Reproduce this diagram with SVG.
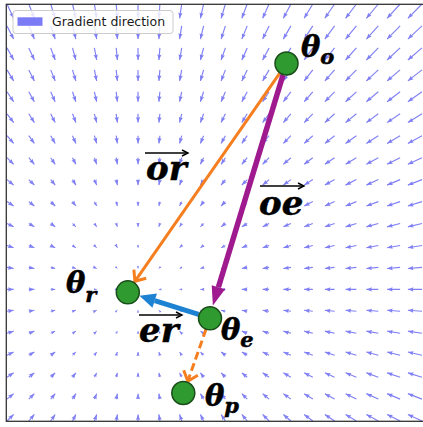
<svg xmlns="http://www.w3.org/2000/svg" width="423" height="427" viewBox="0 0 423 427">
<style>
.q path{stroke:#8080f4;stroke-width:1.15;fill:none;marker-end:url(#qa)}
.q path.b{stroke-width:1;marker-end:url(#qb)}
.q path.c{stroke-width:0.8;marker-end:url(#qc)}
.qh{fill:#8080f4}
.n circle{fill:#2f9a2f;stroke:#1a4d1a;stroke-width:1.5}
.lb{font-family:"DejaVu Serif",serif;font-weight:bold;font-style:italic;font-size:29px;fill:#000;stroke:#000;stroke-width:0.5}
.sub{font-size:21px}
.vl{font-size:34px}
.ov{stroke:#000;stroke-width:1.5;fill:none;marker-end:url(#mk)}
</style>
<defs>
<marker id="qa" markerUnits="userSpaceOnUse" orient="auto" overflow="visible" refX="0" refY="0" markerWidth="6" markerHeight="5"><path class="qh" d="M-5.5-2.1L0 0L-5.5 2.1L-4.8 0z"/></marker>
<marker id="qb" markerUnits="userSpaceOnUse" orient="auto" overflow="visible" refX="0" refY="0" markerWidth="5" markerHeight="4"><path class="qh" d="M-4-1.6L0 0L-4 1.6L-3.5 0z"/></marker>
<marker id="qc" markerUnits="userSpaceOnUse" orient="auto" overflow="visible" refX="0" refY="0" markerWidth="3" markerHeight="3"><path class="qh" d="M-2.5-1.1L0 0L-2.5 1.1z"/></marker>
<marker id="mo" markerUnits="userSpaceOnUse" orient="auto" overflow="visible" refX="0" refY="0" markerWidth="10" markerHeight="15"><path d="M-9-7.5L0 0L-9 7.5" fill="none" stroke="#f57f20" stroke-width="3"/></marker>
<marker id="mp" markerUnits="userSpaceOnUse" orient="auto" overflow="visible" refX="0" refY="0" markerWidth="19" markerHeight="14"><path d="M0-7L19 0L0 7z" fill="#9e1a8e"/></marker>
<marker id="mb" markerUnits="userSpaceOnUse" orient="auto" overflow="visible" refX="0" refY="0" markerWidth="16" markerHeight="15"><path d="M0-7.5L16 0L0 7.5z" fill="#1e82d2"/></marker>
<marker id="mk" markerUnits="userSpaceOnUse" orient="auto" overflow="visible" refX="0" refY="0" markerWidth="7" markerHeight="7"><path d="M-6-3L0 0L-6 3" fill="none" stroke="#000" stroke-width="1.4"/></marker>
</defs>
<rect width="423" height="427" fill="#fff"/>
<g id="quiver" class="q">
<path d="M7 4l6.65 14.3"/><path d="M28.8 4l5.56 14.3"/><path d="M50.7 4l4.47 14.3"/><path d="M72.5 4l3.38 14.3"/><path d="M94.4 4l2.28 14.3"/><path d="M116.2 4l1.19 14.3"/><path d="M138 4l.1 14.3"/><path d="M159.9 4l-1 14.3"/><path d="M181.7 4l-2.09 14.3"/><path d="M203.6 4l-3.18 14.3"/><path d="M225.4 4l-4.27 14.3"/><path d="M247.2 4l-5.36 14.3"/><path d="M269.1 4l-6.46 14.3"/><path d="M290.9 4l-7.55 14.3"/><path d="M312.8 4l-8.64 14.3"/><path d="M334.6 4l-9.73 14.3"/><path d="M356.4 4l-10.82 14.3"/><path d="M378.3 4l-11.92 14.3"/><path d="M400.1 4l-13 14.3"/><path d="M422 4l-14.1 14.3"/>
<path d="M7 25.9l6.65 13.2"/><path d="M28.8 25.9l5.56 13.2"/><path d="M50.7 25.9l4.47 13.2"/><path d="M72.5 25.9l3.38 13.2"/><path d="M94.4 25.9l2.28 13.2"/><path d="M116.2 25.9l1.19 13.2"/><path d="M138 25.9l.1 13.2"/><path d="M159.9 25.9l-1 13.2"/><path d="M181.7 25.9l-2.09 13.2"/><path d="M203.6 25.9l-3.18 13.2"/><path d="M225.4 25.9l-4.27 13.2"/><path d="M247.2 25.9l-5.36 13.2"/><path d="M269.1 25.9l-6.46 13.2"/><path d="M290.9 25.9l-7.55 13.2"/><path d="M312.8 25.9l-8.64 13.2"/><path d="M334.6 25.9l-9.73 13.2"/><path d="M356.4 25.9l-10.82 13.2"/><path d="M378.3 25.9l-11.92 13.2"/><path d="M400.1 25.9l-13 13.2"/><path d="M422 25.9l-14.1 13.2"/>
<path d="M7 47.9l6.65 12.1"/><path d="M28.8 47.9l5.56 12.1"/><path d="M50.7 47.9l4.47 12.1"/><path d="M72.5 47.9l3.38 12.1"/><path d="M94.4 47.9l2.28 12.1"/><path d="M116.2 47.9l1.19 12.1"/><path d="M138 47.9l.1 12.1"/><path d="M159.9 47.9l-1 12.1"/><path d="M181.7 47.9l-2.09 12.1"/><path d="M203.6 47.9l-3.18 12.1"/><path d="M225.4 47.9l-4.27 12.1"/><path d="M247.2 47.9l-5.36 12.1"/><path d="M269.1 47.9l-6.46 12.1"/><path d="M290.9 47.9l-7.55 12.1"/><path d="M312.8 47.9l-8.64 12.1"/><path d="M334.6 47.9l-9.73 12.1"/><path d="M356.4 47.9l-10.82 12.1"/><path d="M378.3 47.9l-11.92 12.1"/><path d="M400.1 47.9l-13 12.1"/><path d="M422 47.9l-14.1 12.1"/>
<path d="M7 69.9l6.65 11"/><path d="M28.8 69.9l5.56 11"/><path d="M50.7 69.9l4.47 11"/><path d="M72.5 69.9l3.38 11"/><path d="M94.4 69.9l2.28 11"/><path d="M116.2 69.9l1.19 11"/><path d="M138 69.9l.1 11"/><path d="M159.9 69.9l-1 11"/><path d="M181.7 69.9l-2.09 11"/><path d="M203.6 69.9l-3.18 11"/><path d="M225.4 69.9l-4.27 11"/><path d="M247.2 69.9l-5.36 11"/><path d="M269.1 69.9l-6.46 11"/><path d="M290.9 69.9l-7.55 11"/><path d="M312.8 69.9l-8.64 11"/><path d="M334.6 69.9l-9.73 11"/><path d="M356.4 69.9l-10.82 11"/><path d="M378.3 69.9l-11.92 11"/><path d="M400.1 69.9l-13 11"/><path d="M422 69.9l-14.1 11"/>
<path d="M7 91.8l6.65 9.91"/><path d="M28.8 91.8l5.56 9.91"/><path d="M50.7 91.8l4.47 9.91"/><path d="M72.5 91.8l3.38 9.91"/><path d="M94.4 91.8l2.28 9.91"/><path d="M116.2 91.8l1.19 9.91"/><path d="M138 91.8l.1 9.91"/><path d="M159.9 91.8l-1 9.91"/><path d="M181.7 91.8l-2.09 9.91"/><path d="M203.6 91.8l-3.18 9.91"/><path d="M225.4 91.8l-4.27 9.91"/><path d="M247.2 91.8l-5.36 9.91"/><path d="M269.1 91.8l-6.46 9.91"/><path d="M290.9 91.8l-7.55 9.91"/><path d="M312.8 91.8l-8.64 9.91"/><path d="M334.6 91.8l-9.73 9.91"/><path d="M356.4 91.8l-10.82 9.91"/><path d="M378.3 91.8l-11.92 9.91"/><path d="M400.1 91.8l-13 9.91"/><path d="M422 91.8l-14.1 9.91"/>
<path d="M7 113.8l6.65 8.81"/><path d="M28.8 113.8l5.56 8.81"/><path d="M50.7 113.8l4.47 8.81"/><path d="M72.5 113.8l3.38 8.81"/><path d="M94.4 113.8l2.28 8.81"/><path d="M116.2 113.8l1.19 8.81"/><path d="M138 113.8l.1 8.81"/><path d="M159.9 113.8l-1 8.81"/><path d="M181.7 113.8l-2.09 8.81"/><path d="M203.6 113.8l-3.18 8.81"/><path d="M225.4 113.8l-4.27 8.81"/><path d="M247.2 113.8l-5.36 8.81"/><path d="M269.1 113.8l-6.46 8.81"/><path d="M290.9 113.8l-7.55 8.81"/><path d="M312.8 113.8l-8.64 8.81"/><path d="M334.6 113.8l-9.73 8.81"/><path d="M356.4 113.8l-10.82 8.81"/><path d="M378.3 113.8l-11.92 8.81"/><path d="M400.1 113.8l-13 8.81"/><path d="M422 113.8l-14.1 8.81"/>
<path d="M7 135.7l6.65 7.72"/><path d="M28.8 135.7l5.56 7.72"/><path d="M50.7 135.7l4.47 7.72"/><path d="M72.5 135.7l3.38 7.72"/><path d="M94.4 135.7l2.28 7.72"/><path d="M116.2 135.7l1.19 7.72"/><path d="M138 135.7l.1 7.72"/><path d="M159.9 135.7l-1 7.72"/><path d="M181.7 135.7l-2.09 7.72"/><path d="M203.6 135.7l-3.18 7.72"/><path d="M225.4 135.7l-4.27 7.72"/><path d="M247.2 135.7l-5.36 7.72"/><path d="M269.1 135.7l-6.46 7.72"/><path d="M290.9 135.7l-7.55 7.72"/><path d="M312.8 135.7l-8.64 7.72"/><path d="M334.6 135.7l-9.73 7.72"/><path d="M356.4 135.7l-10.82 7.72"/><path d="M378.3 135.7l-11.92 7.72"/><path d="M400.1 135.7l-13 7.72"/><path d="M422 135.7l-14.1 7.72"/>
<path d="M7 157.7l6.65 6.62"/><path d="M28.8 157.7l5.56 6.62"/><path d="M50.7 157.7l4.47 6.62"/><path d="M72.5 157.7l3.38 6.62"/><path d="M94.4 157.7l2.28 6.62"/><path d="M116.2 157.7l1.19 6.62"/><path d="M138 157.7l.1 6.62"/><path d="M159.9 157.7l-1 6.62"/><path d="M181.7 157.7l-2.09 6.62"/><path d="M203.6 157.7l-3.18 6.62"/><path d="M225.4 157.7l-4.27 6.62"/><path d="M247.2 157.7l-5.36 6.62"/><path d="M269.1 157.7l-6.46 6.62"/><path d="M290.9 157.7l-7.55 6.62"/><path d="M312.8 157.7l-8.64 6.62"/><path d="M334.6 157.7l-9.73 6.62"/><path d="M356.4 157.7l-10.82 6.62"/><path d="M378.3 157.7l-11.92 6.62"/><path d="M400.1 157.7l-13 6.62"/><path d="M422 157.7l-14.1 6.62"/>
<path d="M7 179.6l6.65 5.52"/><path d="M28.8 179.6l5.56 5.52"/><path d="M50.7 179.6l4.47 5.52"/><path d="M72.5 179.6l3.38 5.52"/><path d="M94.4 179.6l2.28 5.52"/><path d="M116.2 179.6l1.19 5.52"/><path d="M138 179.6l.1 5.52"/><path d="M159.9 179.6l-1 5.52"/><path d="M181.7 179.6l-2.09 5.52"/><path d="M203.6 179.6l-3.18 5.52"/><path d="M225.4 179.6l-4.27 5.52"/><path d="M247.2 179.6l-5.36 5.52"/><path d="M269.1 179.6l-6.46 5.52"/><path d="M290.9 179.6l-7.55 5.52"/><path d="M312.8 179.6l-8.64 5.52"/><path d="M334.6 179.6l-9.73 5.52"/><path d="M356.4 179.6l-10.82 5.52"/><path d="M378.3 179.6l-11.92 5.52"/><path d="M400.1 179.6l-13 5.52"/><path d="M422 179.6l-14.1 5.52"/>
<path d="M7 201.6l6.65 4.42"/><path d="M28.8 201.6l5.56 4.42"/><path d="M50.7 201.6l4.47 4.42"/><path d="M72.5 201.6l3.38 4.42"/><path class="b" d="M94.4 201.6l2.28 4.42"/><path class="b" d="M116.2 201.6l1.19 4.42"/><path class="b" d="M138 201.6l.1 4.42"/><path class="b" d="M159.9 201.6l-1 4.42"/><path class="b" d="M181.7 201.6l-2.09 4.42"/><path d="M203.6 201.6l-3.18 4.42"/><path d="M225.4 201.6l-4.27 4.42"/><path d="M247.2 201.6l-5.36 4.42"/><path d="M269.1 201.6l-6.46 4.42"/><path d="M290.9 201.6l-7.55 4.42"/><path d="M312.8 201.6l-8.64 4.42"/><path d="M334.6 201.6l-9.73 4.42"/><path d="M356.4 201.6l-10.82 4.42"/><path d="M378.3 201.6l-11.92 4.42"/><path d="M400.1 201.6l-13 4.42"/><path d="M422 201.6l-14.1 4.42"/>
<path d="M7 223.5l6.65 3.33"/><path d="M28.8 223.5l5.56 3.33"/><path d="M50.7 223.5l4.47 3.33"/><path class="b" d="M72.5 223.5l3.38 3.33"/><path class="b" d="M94.4 223.5l2.28 3.33"/><path class="b" d="M116.2 223.5l1.19 3.33"/><path class="b" d="M138 223.5l.1 3.33"/><path class="b" d="M159.9 223.5l-1 3.33"/><path class="b" d="M181.7 223.5l-2.09 3.33"/><path class="b" d="M203.6 223.5l-3.18 3.33"/><path d="M225.4 223.5l-4.27 3.33"/><path d="M247.2 223.5l-5.36 3.33"/><path d="M269.1 223.5l-6.46 3.33"/><path d="M290.9 223.5l-7.55 3.33"/><path d="M312.8 223.5l-8.64 3.33"/><path d="M334.6 223.5l-9.73 3.33"/><path d="M356.4 223.5l-10.82 3.33"/><path d="M378.3 223.5l-11.92 3.33"/><path d="M400.1 223.5l-13 3.33"/><path d="M422 223.5l-14.1 3.33"/>
<path d="M7 245.5l6.65 2.23"/><path d="M28.8 245.5l5.56 2.23"/><path d="M50.7 245.5l4.47 2.23"/><path class="b" d="M72.5 245.5l3.38 2.23"/><path class="b" d="M94.4 245.5l2.28 2.23"/><path class="b" d="M116.2 245.5l1.19 2.23"/><path class="c" d="M138 245.5l.1 2.23"/><path class="c" d="M159.9 245.5l-1 2.23"/><path class="b" d="M181.7 245.5l-2.09 2.23"/><path class="b" d="M203.6 245.5l-3.18 2.23"/><path class="b" d="M225.4 245.5l-4.27 2.23"/><path d="M247.2 245.5l-5.36 2.23"/><path d="M269.1 245.5l-6.46 2.23"/><path d="M290.9 245.5l-7.55 2.23"/><path d="M312.8 245.5l-8.64 2.23"/><path d="M334.6 245.5l-9.73 2.23"/><path d="M356.4 245.5l-10.82 2.23"/><path d="M378.3 245.5l-11.92 2.23"/><path d="M400.1 245.5l-13 2.23"/><path d="M422 245.5l-14.1 2.23"/>
<path d="M7 267.4l6.65 1.13"/><path d="M28.8 267.4l5.56 1.13"/><path class="b" d="M50.7 267.4l4.47 1.13"/><path class="b" d="M72.5 267.4l3.38 1.13"/><path class="b" d="M94.4 267.4l2.28 1.13"/><path class="c" d="M116.2 267.4l1.19 1.13"/><path class="c" d="M138 267.4l.1 1.13"/><path class="c" d="M159.9 267.4l-1 1.13"/><path class="c" d="M181.7 267.4l-2.09 1.13"/><path class="b" d="M203.6 267.4l-3.18 1.13"/><path class="b" d="M225.4 267.4l-4.27 1.13"/><path d="M247.2 267.4l-5.36 1.13"/><path d="M269.1 267.4l-6.46 1.13"/><path d="M290.9 267.4l-7.55 1.13"/><path d="M312.8 267.4l-8.64 1.13"/><path d="M334.6 267.4l-9.73 1.13"/><path d="M356.4 267.4l-10.82 1.13"/><path d="M378.3 267.4l-11.92 1.13"/><path d="M400.1 267.4l-13 1.13"/><path d="M422 267.4l-14.1 1.13"/>
<path d="M7 289.4l6.65 .03"/><path d="M28.8 289.4l5.56 .03"/><path class="b" d="M50.7 289.4l4.47 .03"/><path class="b" d="M72.5 289.4l3.38 .03"/><path class="c" d="M94.4 289.4l2.28 .03"/><path class="c" d="M116.2 289.4l1.19 .03"/><path class="c" d="M138 289.4l.1 .03"/><path class="c" d="M159.9 289.4l-1 .03"/><path class="c" d="M181.7 289.4l-2.09 .03"/><path class="b" d="M203.6 289.4l-3.18 .03"/><path class="b" d="M225.4 289.4l-4.27 .03"/><path d="M247.2 289.4l-5.36 .03"/><path d="M269.1 289.4l-6.46 .03"/><path d="M290.9 289.4l-7.55 .03"/><path d="M312.8 289.4l-8.64 .03"/><path d="M334.6 289.4l-9.73 .03"/><path d="M356.4 289.4l-10.82 .03"/><path d="M378.3 289.4l-11.92 .03"/><path d="M400.1 289.4l-13 .03"/><path d="M422 289.4l-14.1 .03"/>
<path d="M7 311.3l6.65-1.07"/><path d="M28.8 311.3l5.56-1.07"/><path class="b" d="M50.7 311.3l4.47-1.07"/><path class="b" d="M72.5 311.3l3.38-1.07"/><path class="b" d="M94.4 311.3l2.28-1.07"/><path class="c" d="M116.2 311.3l1.19-1.07"/><path class="c" d="M138 311.3l.1-1.07"/><path class="c" d="M159.9 311.3l-1-1.07"/><path class="c" d="M181.7 311.3l-2.09-1.07"/><path class="b" d="M203.6 311.3l-3.18-1.07"/><path class="b" d="M225.4 311.3l-4.27-1.07"/><path d="M247.2 311.3l-5.36-1.07"/><path d="M269.1 311.3l-6.46-1.07"/><path d="M290.9 311.3l-7.55-1.07"/><path d="M312.8 311.3l-8.64-1.07"/><path d="M334.6 311.3l-9.73-1.07"/><path d="M356.4 311.3l-10.82-1.07"/><path d="M378.3 311.3l-11.92-1.07"/><path d="M400.1 311.3l-13-1.07"/><path d="M422 311.3l-14.1-1.07"/>
<path d="M7 333.3l6.65-2.17"/><path d="M28.8 333.3l5.56-2.17"/><path class="b" d="M50.7 333.3l4.47-2.17"/><path class="b" d="M72.5 333.3l3.38-2.17"/><path class="b" d="M94.4 333.3l2.28-2.17"/><path class="c" d="M116.2 333.3l1.19-2.17"/><path class="c" d="M138 333.3l.1-2.17"/><path class="c" d="M159.9 333.3l-1-2.17"/><path class="b" d="M181.7 333.3l-2.09-2.17"/><path class="b" d="M203.6 333.3l-3.18-2.17"/><path class="b" d="M225.4 333.3l-4.27-2.17"/><path d="M247.2 333.3l-5.36-2.17"/><path d="M269.1 333.3l-6.46-2.17"/><path d="M290.9 333.3l-7.55-2.17"/><path d="M312.8 333.3l-8.64-2.17"/><path d="M334.6 333.3l-9.73-2.17"/><path d="M356.4 333.3l-10.82-2.17"/><path d="M378.3 333.3l-11.92-2.17"/><path d="M400.1 333.3l-13-2.17"/><path d="M422 333.3l-14.1-2.17"/>
<path d="M7 355.2l6.65-3.26"/><path d="M28.8 355.2l5.56-3.26"/><path d="M50.7 355.2l4.47-3.26"/><path class="b" d="M72.5 355.2l3.38-3.26"/><path class="b" d="M94.4 355.2l2.28-3.26"/><path class="b" d="M116.2 355.2l1.19-3.26"/><path class="b" d="M138 355.2l.1-3.26"/><path class="b" d="M159.9 355.2l-1-3.26"/><path class="b" d="M181.7 355.2l-2.09-3.26"/><path class="b" d="M203.6 355.2l-3.18-3.26"/><path d="M225.4 355.2l-4.27-3.26"/><path d="M247.2 355.2l-5.36-3.26"/><path d="M269.1 355.2l-6.46-3.26"/><path d="M290.9 355.2l-7.55-3.26"/><path d="M312.8 355.2l-8.64-3.26"/><path d="M334.6 355.2l-9.73-3.26"/><path d="M356.4 355.2l-10.82-3.26"/><path d="M378.3 355.2l-11.92-3.26"/><path d="M400.1 355.2l-13-3.26"/><path d="M422 355.2l-14.1-3.26"/>
<path d="M7 377.2l6.65-4.36"/><path d="M28.8 377.2l5.56-4.36"/><path d="M50.7 377.2l4.47-4.36"/><path d="M72.5 377.2l3.38-4.36"/><path class="b" d="M94.4 377.2l2.28-4.36"/><path class="b" d="M116.2 377.2l1.19-4.36"/><path class="b" d="M138 377.2l.1-4.36"/><path class="b" d="M159.9 377.2l-1-4.36"/><path class="b" d="M181.7 377.2l-2.09-4.36"/><path d="M203.6 377.2l-3.18-4.36"/><path d="M225.4 377.2l-4.27-4.36"/><path d="M247.2 377.2l-5.36-4.36"/><path d="M269.1 377.2l-6.46-4.36"/><path d="M290.9 377.2l-7.55-4.36"/><path d="M312.8 377.2l-8.64-4.36"/><path d="M334.6 377.2l-9.73-4.36"/><path d="M356.4 377.2l-10.82-4.36"/><path d="M378.3 377.2l-11.92-4.36"/><path d="M400.1 377.2l-13-4.36"/><path d="M422 377.2l-14.1-4.36"/>
<path d="M7 399.1l6.65-5.46"/><path d="M28.8 399.1l5.56-5.46"/><path d="M50.7 399.1l4.47-5.46"/><path d="M72.5 399.1l3.38-5.46"/><path d="M94.4 399.1l2.28-5.46"/><path d="M116.2 399.1l1.19-5.46"/><path d="M138 399.1l.1-5.46"/><path d="M159.9 399.1l-1-5.46"/><path d="M181.7 399.1l-2.09-5.46"/><path d="M203.6 399.1l-3.18-5.46"/><path d="M225.4 399.1l-4.27-5.46"/><path d="M247.2 399.1l-5.36-5.46"/><path d="M269.1 399.1l-6.46-5.46"/><path d="M290.9 399.1l-7.55-5.46"/><path d="M312.8 399.1l-8.64-5.46"/><path d="M334.6 399.1l-9.73-5.46"/><path d="M356.4 399.1l-10.82-5.46"/><path d="M378.3 399.1l-11.92-5.46"/><path d="M400.1 399.1l-13-5.46"/><path d="M422 399.1l-14.1-5.46"/>
<path d="M7 421l6.65-6.55"/><path d="M28.8 421l5.56-6.55"/><path d="M50.7 421l4.47-6.55"/><path d="M72.5 421l3.38-6.55"/><path d="M94.4 421l2.28-6.55"/><path d="M116.2 421l1.19-6.55"/><path d="M138 421l.1-6.55"/><path d="M159.9 421l-1-6.55"/><path d="M181.7 421l-2.09-6.55"/><path d="M203.6 421l-3.18-6.55"/><path d="M225.4 421l-4.27-6.55"/><path d="M247.2 421l-5.36-6.55"/><path d="M269.1 421l-6.46-6.55"/><path d="M290.9 421l-7.55-6.55"/><path d="M312.8 421l-8.64-6.55"/><path d="M334.6 421l-9.73-6.55"/><path d="M356.4 421l-10.82-6.55"/><path d="M378.3 421l-11.92-6.55"/><path d="M400.1 421l-13-6.55"/><path d="M422 421l-14.1-6.55"/>
</g>
<rect id="frame" x="6.3" y="4.3" width="420" height="417" fill="none" stroke="#333" stroke-width="1.3"/>
<g id="legend">
<rect x="13" y="10.5" width="160" height="23" rx="3" fill="#fff" fill-opacity="0.8" stroke="#ccc" stroke-width="1"/>
<rect x="17.5" y="17.3" width="25" height="8.5" fill="#7b7bf5"/>
<text x="52" y="26.3" font-family="DejaVu Sans, sans-serif" font-size="12.5" fill="#1a1a1a">Gradient direction</text>
</g>
<g id="connectors">
<path id="c_or" d="M279.6 73.4L134.9 281.3" stroke="#f57f20" stroke-width="3" fill="none" marker-end="url(#mo)"/>
<path id="c_oe" d="M283 75L218.4 287.3" stroke="#9e1a8e" stroke-width="5.5" fill="none" marker-end="url(#mp)"/>
<path id="c_er" d="M198.6 314.4L154.7 300.6" stroke="#1e82d2" stroke-width="5" fill="none" marker-end="url(#mb)"/>
<path id="c_ep" d="M206 329.3L187.8 381.2" stroke="#f57f20" stroke-width="3" stroke-dasharray="8 4" fill="none" marker-end="url(#mo)"/>
</g>
<g id="node_o" class="n"><circle cx="286.5" cy="63.5" r="11.5"/><text class="lb" x="301" y="57">θ<tspan class="sub" dy="7">o</tspan></text></g>
<g id="node_r" class="n"><circle cx="127.8" cy="292.3" r="11.5"/><text class="lb" x="66" y="293">θ<tspan class="sub" dy="9">r</tspan></text></g>
<g id="node_e" class="n"><circle cx="210" cy="318.3" r="11.5"/><text class="lb" x="221" y="340">θ<tspan class="sub" dy="7">e</tspan></text></g>
<g id="node_p" class="n"><circle cx="183.3" cy="393" r="11.5"/><text class="lb" x="205" y="406">θ<tspan class="sub" dy="7">p</tspan></text></g>
<g id="vector_labels">
<g id="lbl_or"><path class="ov" d="M145 153H188"/><text class="lb vl" x="146" y="180">or</text></g>
<g id="lbl_oe"><path class="ov" d="M260 186H304"/><text class="lb vl" x="259" y="215">oe</text></g>
<g id="lbl_er"><path class="ov" d="M139 315H182"/><text class="lb vl" x="139" y="342">er</text></g>
</g>
</svg>
